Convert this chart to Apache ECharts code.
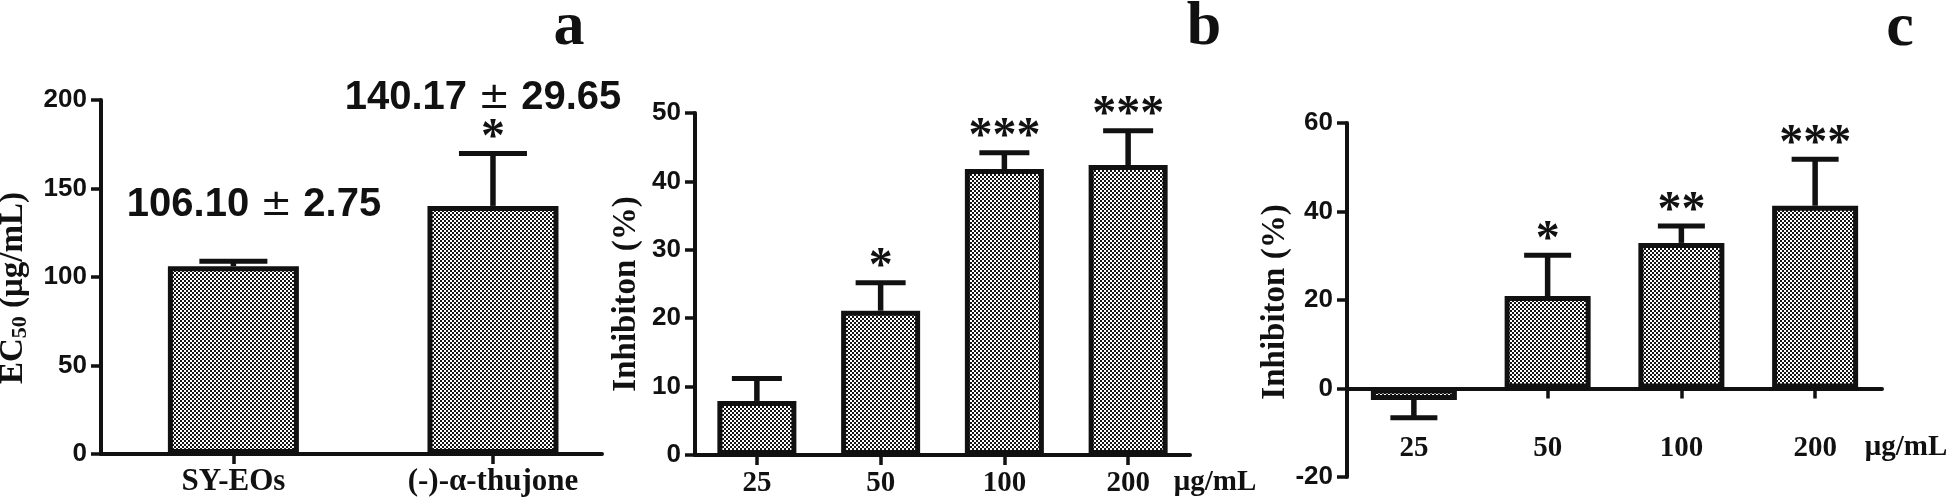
<!DOCTYPE html>
<html>
<head>
<meta charset="utf-8">
<script src="https://cdn.jsdelivr.net/npm/echarts@6/dist/echarts.min.js"></script>
<style>
html,body{margin:0;padding:0;background:#fff;}
#chart{width:1946px;height:501px;}
</style>
</head>
<body>
<div id="chart"></div>
<script>
// ---- data ----
const catsA = ['SY-EOs', '(-)-α-thujone'];
const meanA = [106.10, 140.17];
const sdA = [2.75, 29.65];
const starsA = ['', '*'];
const annotA = ['106.10', '140.17'];
const annotSdA = ['2.75', '29.65'];

const catsB = ['25', '50', '100', '200'];
const meanB = [7.9, 21.1, 41.8, 42.4];
const errB = [3.3, 4.1, 2.4, 5.0];
const starsB = ['', '*', '***', '***'];

const catsC = ['25', '50', '100', '200'];
const meanC = [-2.6, 20.9, 32.9, 41.3];
const errC = [4.0, 9.2, 3.8, 10.5];
const starsC = ['', '*', '**', '***'];

const unitLabel = 'μg/mL';
const panelLetters = ['a', 'b', 'c'];

// ---- styling ----
const INK = '#111';
const SANS = '"Liberation Sans", Arial, sans-serif';
const SERIF = '"Liberation Serif", "Times New Roman", serif';

function makePattern() {
  const c = document.createElement('canvas');
  c.width = 4; c.height = 4;
  const g = c.getContext('2d');
  g.fillStyle = '#fff'; g.fillRect(0, 0, 4, 4);
  g.fillStyle = '#151515';
  g.fillRect(0, 0, 2, 2);
  g.fillRect(2, 2, 2, 2);
  return c;
}
const pattern = { image: makePattern(), repeat: 'repeat' };

function errRender(means, errs, stars, capW) {
  return function (params, api) {
    const i = params.dataIndex;
    const m = means[i], e = errs[i];
    const end = m >= 0 ? m + e : m - e;
    const x = api.value(0);
    const p0 = api.coord([x, m]);
    const p1 = api.coord([x, end]);
    const children = [
      { type: 'line', shape: { x1: p0[0], y1: p0[1], x2: p1[0], y2: p1[1] }, style: { stroke: INK, lineWidth: 5.5 } },
      { type: 'line', shape: { x1: p1[0] - capW / 2, y1: p1[1], x2: p1[0] + capW / 2, y2: p1[1] }, style: { stroke: INK, lineWidth: 5 } }
    ];
    if (stars[i]) {
      children.push({ type: 'text', x: p1[0], y: p1[1] - 15,
        style: { text: stars[i], font: 'bold 48px ' + SERIF, fill: INK, align: 'center', verticalAlign: 'middle' } });
    }
    return { type: 'group', children };
  };
}

const yLabel = { color: INK, fontFamily: SANS, fontWeight: 'bold', fontSize: 26, margin: 14 };
const xLabel = { color: INK, fontFamily: SERIF, fontWeight: 'bold', fontSize: 29 };
const axLineY = { show: true, onZero: false, lineStyle: { color: INK, width: 4 } };
const axLineX = { show: true, onZero: true, lineStyle: { color: INK, width: 4 } };
const axTick = { show: true, length: 10, lineStyle: { color: INK, width: 3.5 } };
const nameStyle = { color: INK, fontFamily: SERIF, fontWeight: 'bold', fontSize: 33 };

const option = {
  animation: false,
  backgroundColor: '#fff',
  grid: [
    { left: 101, top: 100, width: 501, height: 354, outerBoundsMode: 'none', containLabel: false },
    { left: 695, top: 113, width: 495, height: 342, outerBoundsMode: 'none', containLabel: false },
    { left: 1347, top: 123, width: 535, height: 354, outerBoundsMode: 'none', containLabel: false }
  ],
  xAxis: [
    { type: 'value', gridIndex: 0, min: -0.51, max: 1.42,
      axisLine: axLineX, splitLine: { show: false },
      axisTick: Object.assign({}, axTick, { customValues: [0, 1] }),
      axisLabel: Object.assign({}, xLabel, { fontSize: 31, margin: 12, customValues: [0, 1], formatter: v => catsA[Math.round(v)] || '' }) },
    { type: 'category', gridIndex: 1, data: catsB, boundaryGap: true,
      axisLine: axLineX, axisTick: Object.assign({}, axTick, { alignWithLabel: true }),
      axisLabel: Object.assign({}, xLabel, { margin: 14 }) },
    { type: 'category', gridIndex: 2, data: catsC, boundaryGap: true,
      axisLine: axLineX, axisTick: Object.assign({}, axTick, { alignWithLabel: true }),
      axisLabel: Object.assign({}, xLabel, { margin: -43 }) }
  ],
  yAxis: [
    { type: 'value', gridIndex: 0, min: 0, max: 200, interval: 50,
      axisLine: axLineY, axisTick: axTick, splitLine: { show: false }, axisLabel: yLabel,
      name: '{t|EC}{s|50}{t| (μg/mL)}', nameLocation: 'middle', nameGap: 70,
      nameTextStyle: Object.assign({}, nameStyle, { padding: [0, 22, 0, 0],
        rich: { t: Object.assign({}, nameStyle), s: Object.assign({}, nameStyle, { fontSize: 22, padding: [14, 0, 0, 0] }) } }) },
    { type: 'value', gridIndex: 1, min: 0, max: 50, interval: 10,
      axisLine: axLineY, axisTick: axTick, splitLine: { show: false }, axisLabel: yLabel,
      name: 'Inhibiton (%)', nameLocation: 'middle', nameGap: 52,
      nameTextStyle: Object.assign({}, nameStyle, { padding: [0, 20, 0, 0] }) },
    { type: 'value', gridIndex: 2, min: -20, max: 60, interval: 20,
      axisLine: axLineY, axisTick: axTick, splitLine: { show: false }, axisLabel: yLabel,
      name: 'Inhibiton (%)', nameLocation: 'middle', nameGap: 53,
      nameTextStyle: Object.assign({}, nameStyle, { padding: [0, 4, 0, 0] }) }
  ],
  series: [
    { type: 'bar', xAxisIndex: 0, yAxisIndex: 0, barWidth: 131, z: 2,
      data: meanA.map((v, i) => [i, v]),
      itemStyle: { color: pattern, borderColor: INK, borderWidth: 5 } },
    { type: 'custom', xAxisIndex: 0, yAxisIndex: 0, z: 3,
      data: meanA.map((v, i) => [i, v, sdA[i]]),
      renderItem: errRender(meanA, sdA, starsA, 68) },
    { type: 'bar', xAxisIndex: 1, yAxisIndex: 1, barWidth: 79, z: 2,
      data: meanB,
      itemStyle: { color: pattern, borderColor: INK, borderWidth: 5 } },
    { type: 'custom', xAxisIndex: 1, yAxisIndex: 1, z: 3,
      data: meanB.map((v, i) => [i, v, errB[i]]),
      renderItem: errRender(meanB, errB, starsB, 50) },
    { type: 'bar', xAxisIndex: 2, yAxisIndex: 2, barWidth: 86, z: 2,
      data: meanC,
      itemStyle: { color: pattern, borderColor: INK, borderWidth: 5 } },
    { type: 'custom', xAxisIndex: 2, yAxisIndex: 2, z: 3,
      data: meanC.map((v, i) => [i, v, errC[i]]),
      renderItem: errRender(meanC, errC, starsC, 47) }
  ],
  graphic: [
    { type: 'text', x: 254, y: 205, style: { text: '{n|' + annotA[0] + ' }{pm|±}{n| ' + annotSdA[0] + '}', align: 'center', verticalAlign: 'middle',
      rich: { n: { font: 'bold 40px ' + SANS, fill: INK }, pm: { font: '38px "DejaVu Sans"', fill: INK } } } },
    { type: 'text', x: 483, y: 98, style: { text: '{n|' + annotA[1] + ' }{pm|±}{n| ' + annotSdA[1] + '}', align: 'center', verticalAlign: 'middle',
      rich: { n: { font: 'bold 40px ' + SANS, fill: INK }, pm: { font: '38px "DejaVu Sans"', fill: INK } } } },
    { type: 'text', x: 1215, y: 483, style: { text: unitLabel, font: 'bold 29px ' + SERIF, fill: INK, align: 'center', verticalAlign: 'middle' } },
    { type: 'text', x: 1906, y: 448, style: { text: unitLabel, font: 'bold 29px ' + SERIF, fill: INK, align: 'center', verticalAlign: 'middle' } },
    { type: 'text', x: 569, y: 28, style: { text: panelLetters[0], font: 'bold 62px ' + SERIF, fill: INK, align: 'center', verticalAlign: 'middle' } },
    { type: 'text', x: 1204, y: 28, style: { text: panelLetters[1], font: 'bold 62px ' + SERIF, fill: INK, align: 'center', verticalAlign: 'middle' } },
    { type: 'text', x: 1900, y: 29, style: { text: panelLetters[2], font: 'bold 62px ' + SERIF, fill: INK, align: 'center', verticalAlign: 'middle' } }
  ]
};

const chart = echarts.init(document.getElementById('chart'), null, { renderer: 'canvas' });
chart.setOption(option);
</script>
</body>
</html>
